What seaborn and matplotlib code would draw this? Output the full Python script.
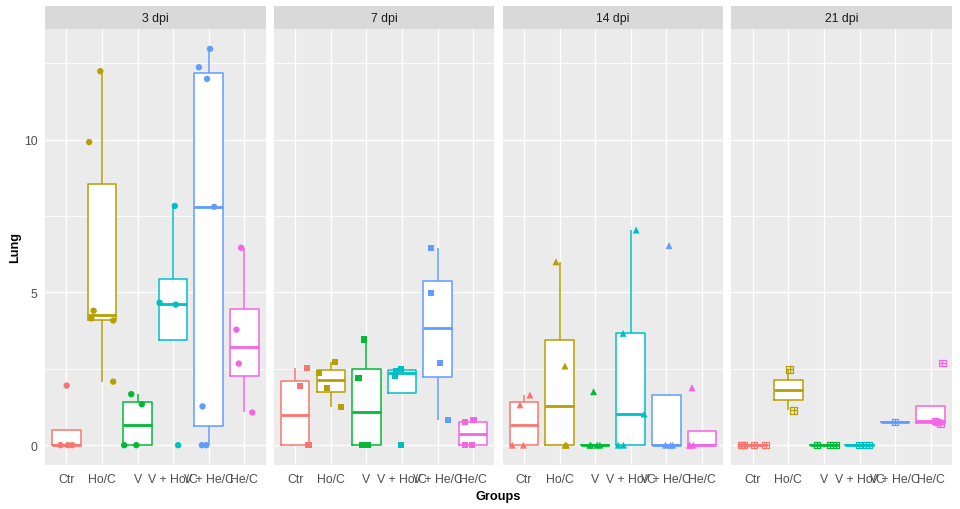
import seaborn as sns
import numpy as np
import pandas as pd
from matplotlib import pyplot as plt
from matplotlib import patches
from matplotlib.path import Path


groups = ['Ctr', 'Ho/C', 'V', 'V + Ho/C', 'V + He/C', 'He/C']
colors = ['#F8766D', '#B79F00', '#00BA38', '#00BFC4', '#619CFF', '#F564E3']
days = ['3 dpi', '7 dpi', '14 dpi', '21 dpi']

# Lung values per group (same order as groups)
dpi_3 = [[0, 0, 0, 1.95],
         [2.08, 4.08, 4.15, 4.40, 9.92, 12.24],
         [0, 0, 1.34, 1.67],
         [0, 4.60, 4.66, 7.83],
         [0, 0, 1.27, 7.80, 11.99, 12.37, 12.97],
         [1.07, 2.67, 3.78, 6.46]]
dpi_7 = [[0, 0, 1.95, 2.54],
         [1.26, 1.88, 2.37, 2.73],
         [0, 0, 2.19, 3.46],
         [0, 2.27, 2.44, 2.48],
         [0.83, 2.70, 4.99, 6.46],
         [0, 0, 0.75, 0.83]]
dpi_14 = [[0, 0, 1.32, 1.64],
          [0, 0, 2.59, 6.00],
          [0, 0, 0, 0, 1.75],
          [0, 0, 1.02, 3.66, 7.04],
          [0, 0, 0, 6.53],
          [0, 0, 0, 1.88]]
dpi_21 = [[0, 0, 0, 0, 0],
          [1.14, 2.48],
          [0, 0, 0],
          [0, 0, 0],
          [0.76],
          [0.69, 0.75, 0.80, 2.68]]

rows = []
for day, vals in zip(days, [dpi_3, dpi_7, dpi_14, dpi_21]):
    for g, v in zip(groups, vals):
        for x in v:
            rows.append({'dpi': day, 'Groups': g, 'Lung': x})
df = pd.DataFrame(rows)

# square with a plus inside (ggplot shape 12)
sq_plus = Path(
    [(-1, -1), (1, -1), (1, 1), (-1, 1), (-1, -1), (-1, 0), (1, 0), (0, -1), (0, 1)],
    [Path.MOVETO, Path.LINETO, Path.LINETO, Path.LINETO, Path.CLOSEPOLY,
     Path.MOVETO, Path.LINETO, Path.MOVETO, Path.LINETO]
)
markers = ['o', 's', '^', sq_plus]
sizes = [4.6, 4.4, 5.0, 4.6]

sns.set_theme(style="darkgrid")
plt.rcParams['font.family'] = ['Liberation Sans', 'DejaVu Sans']

fig, axes = plt.subplots(1, 4, figsize=(9.6, 5.1), dpi=100, sharey=True)
fig.subplots_adjust(left=0.0469, right=0.9917, top=0.941, bottom=0.0863, wspace=0.037)

np.random.seed(3)
lo, hi = df.Lung.min(), df.Lung.max()
pad = (hi - lo) * 0.05

for i, (ax, day) in enumerate(zip(axes, days)):
    sub = df[df.dpi == day]
    # white box fill underneath
    sns.boxplot(data=sub, x='Groups', y='Lung', order=groups, color='white',
                linecolor='white', linewidth=0, showcaps=False, showfliers=False,
                saturation=1, medianprops={'linewidth': 0}, ax=ax)
    # coloured outlines
    sns.boxplot(data=sub, x='Groups', y='Lung', order=groups, hue='Groups',
                hue_order=groups, palette=colors, fill=False, linewidth=1.1,
                showcaps=False, showfliers=False, saturation=1, legend=False,
                medianprops={'linewidth': 2.0}, ax=ax)
    n_before = len(ax.collections)
    sns.stripplot(data=sub, x='Groups', y='Lung', order=groups, hue='Groups',
                  hue_order=groups, palette=colors, jitter=0.4, size=sizes[i],
                  marker=markers[i], legend=False, zorder=3, ax=ax)
    if i == 3:
        for coll in ax.collections[n_before:]:
            fc = coll.get_facecolors()
            coll.set_edgecolors(fc)
            coll.set_facecolors('none')
            coll.set_linewidths(0.9)

    ax.set_facecolor('#EBEBEB')
    ax.set_xlim(-0.6, 5.6)
    ax.set_ylim(lo - pad, hi + pad)
    ax.set_yticks([0, 5, 10])
    ax.set_yticklabels(['0', '5', '10'])
    ax.set_yticks([2.5, 7.5, 12.5], minor=True)
    ax.set_axisbelow(True)
    ax.grid(False)
    ax.grid(which='major', axis='both', color='white', linewidth=1.0)
    ax.grid(which='minor', axis='y', color='white', linewidth=0.6)
    for s in ax.spines.values():
        s.set_visible(False)
    ax.set_xlabel('')
    ax.set_ylabel('')
    ax.tick_params(axis='x', which='major', length=3.5, width=0.8, color='#333333',
                   labelsize=8.8, labelcolor='#4D4D4D', pad=2)
    ax.tick_params(axis='y', which='major', length=3.5 if i == 0 else 0, width=0.8,
                   color='#333333', labelsize=8.8, labelcolor='#4D4D4D', pad=2)
    ax.tick_params(which='minor', length=0)

    # facet strip
    ax.add_patch(patches.Rectangle((0, 1), 1, 0.0528, transform=ax.transAxes,
                                   facecolor='#D9D9D9', edgecolor='none', clip_on=False))
    ax.text(0.5, 1.0264, day, transform=ax.transAxes, ha='center', va='center',
            fontsize=8.8, color='#1A1A1A')

fig.text(0.016, 0.514, 'Lung', rotation=90, ha='center', va='center',
         fontsize=9.2, fontweight='bold', color='black')
fig.text(0.519, 0.0255, 'Groups', ha='center', va='center',
         fontsize=9.2, fontweight='bold', color='black')

fig.savefig('out.png', dpi=100)
